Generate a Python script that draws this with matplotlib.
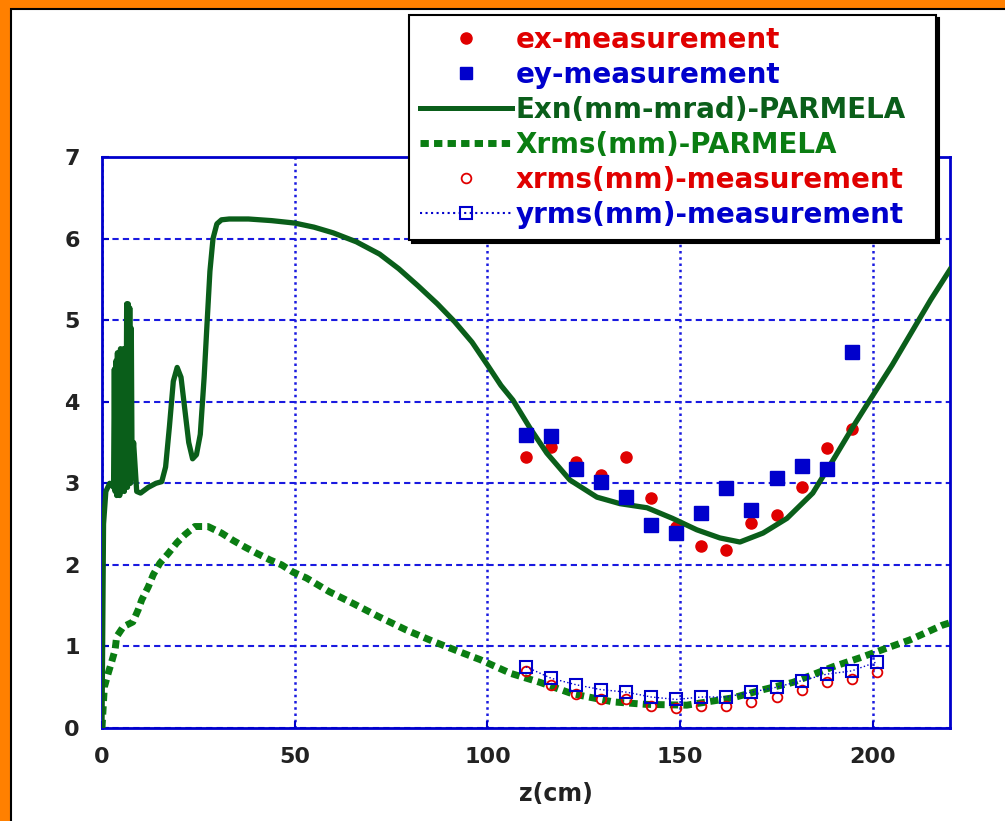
import matplotlib
matplotlib.use('Agg')
import matplotlib.pyplot as plt
from matplotlib.lines import Line2D
from matplotlib.patches import Rectangle

# ---------------- data ----------------
exn_z = [0, 0.4, 1.0, 2.0, 3.0, 3.2, 3.4, 3.6, 3.8, 4.0, 4.2, 4.4, 4.6, 4.8, 5.0,
         5.2, 5.4, 5.6, 5.8, 6.0, 6.2, 6.4, 6.6, 6.8, 7.0, 7.2, 7.4, 7.6, 7.8, 8.2,
         9.0, 10, 12, 14, 15.5, 16.5, 17.5, 18.5, 19.5, 20.5, 21.5,
         22.5, 23.5, 24.5, 25.5, 26.5, 27.3, 28, 28.8, 29.8, 31, 33, 38, 44, 50,
         55, 60, 66, 72, 77, 82, 87, 91.5, 96, 100, 103.5, 106.6, 111, 115.4,
         121.4, 128.4, 134.4, 141.4, 148, 154.3, 160.3, 165.5, 171.5, 177.7,
         184.4, 189.6, 194.8, 199.2, 205, 210, 215, 220]
exn_v = [0, 2.5, 2.9, 3.0, 2.95, 4.4, 2.9, 4.5, 2.85, 4.6, 2.9, 4.6, 2.85, 4.65, 2.9,
         4.6, 2.95, 4.65, 2.9, 4.6, 3.0, 5.2, 2.95, 5.2, 3.0, 5.15, 3.0, 4.9, 3.2, 3.5,
         2.9, 2.88, 2.95, 3.0, 3.02, 3.2, 3.7, 4.25, 4.42, 4.3, 3.9,
         3.5, 3.3, 3.35, 3.6, 4.3, 5.0, 5.6, 6.0, 6.18, 6.23, 6.24, 6.24, 6.22, 6.19,
         6.14, 6.07, 5.96, 5.81, 5.63, 5.42, 5.2, 4.98, 4.73, 4.45, 4.2, 4.02, 3.68, 3.37,
         3.04, 2.83, 2.75, 2.70, 2.57, 2.43, 2.33, 2.28, 2.39, 2.57,
         2.88, 3.28, 3.69, 4.02, 4.45, 4.85, 5.25, 5.62]

xsim_z = [0, 0.6, 1.6, 2.5, 3.4, 3.8, 5.5, 8, 9.4, 10.3, 12, 13.3, 15, 17.2, 19.4,
          21.5, 24.1, 27.5, 31, 34, 37, 40.2, 43.6, 46.6, 49.6, 53, 59, 65, 72, 79,
          86, 93, 98, 106, 113.6, 122, 132.6, 141, 151.7, 163.7, 171.5, 179.3, 189.6,
          196.6, 203.6, 209.6, 218, 220]
xsim_v = [0, 0.5, 0.67, 0.81, 0.96, 1.12, 1.24, 1.30, 1.45, 1.57, 1.73, 1.88, 2.02,
          2.14, 2.27, 2.37, 2.47, 2.47, 2.39, 2.30, 2.22, 2.14, 2.06, 2.0, 1.91, 1.84,
          1.67, 1.53, 1.36, 1.20, 1.06, 0.93, 0.84, 0.67, 0.56, 0.42, 0.32, 0.29, 0.28,
          0.37, 0.47, 0.56, 0.75, 0.86, 0.98, 1.08, 1.26, 1.29]

meas_z = [110, 116.5, 123, 129.5, 136, 142.5, 149, 155.5, 162, 168.5, 175, 181.5, 188, 194.5]
ex_meas = [3.32, 3.45, 3.26, 3.10, 3.32, 2.82, 2.46, 2.23, 2.18, 2.51, 2.61, 2.95, 3.43, 3.67]
ey_meas = [3.59, 3.58, 3.18, 3.02, 2.83, 2.49, 2.39, 2.63, 2.94, 2.67, 3.06, 3.21, 3.18, 4.61]

rms_z = [110, 116.5, 123, 129.5, 136, 142.5, 149, 155.5, 162, 168.5, 175, 181.5, 188, 194.5, 201]
xrms_meas = [0.70, 0.53, 0.42, 0.36, 0.35, 0.27, 0.24, 0.27, 0.27, 0.32, 0.38, 0.46, 0.56, 0.60, 0.69]
yrms_meas = [0.75, 0.61, 0.53, 0.47, 0.44, 0.38, 0.35, 0.38, 0.38, 0.44, 0.50, 0.58, 0.66, 0.70, 0.81]

x_ticks = [0, 50, 100, 150, 200]
y_ticks = [0, 1, 2, 3, 4, 5, 6, 7]
x_label = 'z(cm)'
labels = ['ex-measurement', 'ey-measurement', 'Exn(mm-mrad)-PARMELA',
          'Xrms(mm)-PARMELA', 'xrms(mm)-measurement', 'yrms(mm)-measurement']

# ---------------- style ----------------
RED = '#e00000'
BLUE = '#0000cc'
GRID = '#1a1ae0'
DKGREEN = '#0a5e1a'
GREEN = '#0a7d12'
TXT = '#222222'

plt.rcParams['font.family'] = ['DejaVu Sans']
plt.rcParams['font.weight'] = 'bold'

W, H = 1005, 821
fig = plt.figure(figsize=(W / 100, H / 100), dpi=100, facecolor='#ff8000')
fig.add_artist(Rectangle((11 / W, -0.1), 1.2, 1 - 9 / H + 0.1, transform=fig.transFigure,
                         facecolor='white', edgecolor='black', lw=1.5, zorder=-10))

ax = fig.add_axes([102 / W, 1 - 728 / H, 848 / W, 571 / H])
ax.set_facecolor('white')
ax.set_xlim(0, 220)
ax.set_ylim(0, 7)
ax.set_xticks(x_ticks)
ax.set_yticks(y_ticks)
ax.set_axisbelow(True)
ax.yaxis.grid(True, color=GRID, ls=(0, (3, 2)), lw=1.5)
ax.xaxis.grid(True, color=GRID, ls=(0, (1, 1.5)), lw=1.8)
for s in ax.spines.values():
    s.set_color(BLUE)
    s.set_linewidth(2)
ax.tick_params(axis='both', direction='in', length=5, width=1.5, color=BLUE,
               labelsize=16, labelcolor=TXT)
ax.tick_params(axis='y', pad=16)
ax.tick_params(axis='x', pad=14)
ax.set_xlabel(x_label, fontsize=17, color=TXT, fontweight='bold')
ax.xaxis.set_label_coords(0.535, -0.094)

ax.plot(xsim_z, xsim_v, color=GREEN, lw=5, ls=(0, (1.2, 0.75)),
        dash_capstyle='butt', zorder=3)
ax.plot(meas_z, ex_meas, ls='none', marker='o', ms=8, color=RED, zorder=3.5)
ax.plot(exn_z, exn_v, color=DKGREEN, lw=3.8, zorder=4)
ax.plot(meas_z, ey_meas, ls='none', marker='s', ms=9.5, color=BLUE, zorder=5)
ax.plot(rms_z, xrms_meas, ls='none', marker='o', mfc='none', mec=RED, ms=7,
        mew=1.3, zorder=4.5)
ax.plot(rms_z, yrms_meas, ls=':', color=BLUE, lw=1, marker='s', mfc='none',
        mec=BLUE, ms=8, mew=1.5, zorder=5)

handles = [
    Line2D([], [], ls='none', marker='o', color=RED, ms=8),
    Line2D([], [], ls='none', marker='s', color=BLUE, ms=9),
    Line2D([], [], color=DKGREEN, lw=3.6),
    Line2D([], [], color=GREEN, lw=5, ls=(0, (1.2, 0.75)), dash_capstyle='butt'),
    Line2D([], [], ls='none', marker='o', mfc='none', mec=RED, ms=7, mew=1.3),
    Line2D([], [], ls=':', color=BLUE, lw=1.5, marker='s', mfc='none', mec=BLUE,
           ms=8, mew=1.5),
]
leg = fig.legend(handles, labels, loc='upper left',
                 bbox_to_anchor=(409 / W, 1 - 15 / H, 527 / W, 0), mode='expand',
                 borderaxespad=0, prop={'weight': 'bold', 'size': 20},
                 labelspacing=0.25, handlelength=3.3, handletextpad=0.15,
                 borderpad=0.4, frameon=True, fancybox=False, edgecolor='black',
                 framealpha=1, shadow={'color': 'black', 'alpha': 1},
                 labelcolor=[RED, BLUE, DKGREEN, GREEN, RED, BLUE])
leg.get_frame().set_linewidth(1.5)
leg.set_zorder(10)

fig.savefig('out.png', dpi=100, facecolor=fig.get_facecolor())
